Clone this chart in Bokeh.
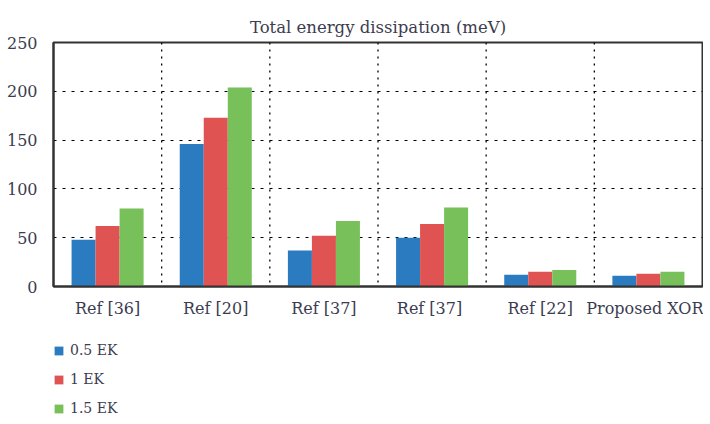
from bokeh.plotting import figure
from bokeh.models import ColumnDataSource, FactorRange, Legend, LegendItem, FixedTicker, Span
from bokeh.layouts import column
from bokeh.transform import dodge
from bokeh.embed import file_html
from bokeh.resources import INLINE

categories = ["Ref [36]", "Ref [20]", "Ref [37]", "Ref [37] ", "Ref [22]", "Proposed XOR"]
series_names = ["0.5 EK", "1 EK", "1.5 EK"]
vals_05 = [48, 146, 37, 50, 12, 11]
vals_1 = [62, 173, 52, 64, 15, 13]
vals_15 = [80, 204, 67, 81, 17, 15]
colors = ["#2b7bc1", "#e05353", "#78c05a"]
y_ticks = [0, 50, 100, 150, 200, 250]
grid_ticks = [50, 100, 150, 200]

src = ColumnDataSource(dict(cat=categories, a=vals_05, b=vals_1, c=vals_15))

FONT = "DejaVu Serif"
TXT = "#3c3c50"

p = figure(x_range=FactorRange(*categories, range_padding=0), y_range=(0, 250),
           frame_width=649, frame_height=244, output_backend="svg", toolbar_location=None,
           min_border_left=53, min_border_right=1, min_border_top=42, min_border_bottom=26)

for key, off, col in zip(["a", "b", "c"], [-0.222, 0.0, 0.222], colors):
    p.vbar(x=dodge("cat", off, range=p.x_range), top=key, width=0.222,
           source=src, fill_color=col, line_color=None)

p.title.text = "Total energy dissipation (meV)"
p.title.align = "center"
p.title.text_font = FONT
p.title.text_font_style = "normal"
p.title.text_font_size = "16.5px"
p.title.text_color = TXT
p.title.standoff = 12

p.outline_line_color = "#333333"
p.outline_line_width = 2
p.outline_line_alpha = 1

for ax in (p.xaxis[0], p.yaxis[0]):
    ax.axis_line_color = "#333333"
    ax.axis_line_width = 2
    ax.major_tick_line_color = None
    ax.minor_tick_line_color = None
    ax.major_label_text_font = FONT
    ax.major_label_text_font_size = "16px"
    ax.major_label_text_color = TXT

p.yaxis[0].ticker = FixedTicker(ticks=y_ticks)
p.yaxis[0].major_label_standoff = 10
p.xaxis[0].major_label_standoff = 6

p.ygrid.ticker = FixedTicker(ticks=grid_ticks)
p.ygrid.grid_line_color = "black"
p.ygrid.grid_line_dash = "3 6"
p.ygrid.grid_line_width = 1.2
p.xgrid.grid_line_color = None

for i in range(1, len(categories)):
    p.add_layout(Span(location=i, dimension="height", line_color="black",
                      line_dash="2 5", line_width=1.3))

# legend panel
lf = figure(frame_width=649, frame_height=74, output_backend="svg", toolbar_location=None,
            min_border_left=52, min_border_right=2, min_border_top=22, min_border_bottom=0,
            x_range=(0, 1), y_range=(0, 1))
lf.axis.visible = False
lf.grid.visible = False
lf.outline_line_color = None
leg_renderers = []
for col in colors:
    # zero-height bar so the legend swatch has data to style from
    r = lf.vbar(x=[0.5], top=[0], bottom=[0], width=0.1, fill_color=col, line_color=None)
    leg_renderers.append(r)

items = [LegendItem(label=n, renderers=[r]) for n, r in zip(series_names, leg_renderers)]
legend = Legend(items=items, orientation="vertical", location="top_left",
                glyph_width=11, glyph_height=11, label_height=12, spacing=13,
                label_text_font=FONT, label_text_font_size="14px",
                label_text_color=TXT, label_standoff=6,
                border_line_color=None, background_fill_alpha=0,
                padding=0, margin=0)
lf.add_layout(legend, "center")

layout = column(p, lf, spacing=0)
open("out.html", "w").write(file_html(layout, INLINE))
